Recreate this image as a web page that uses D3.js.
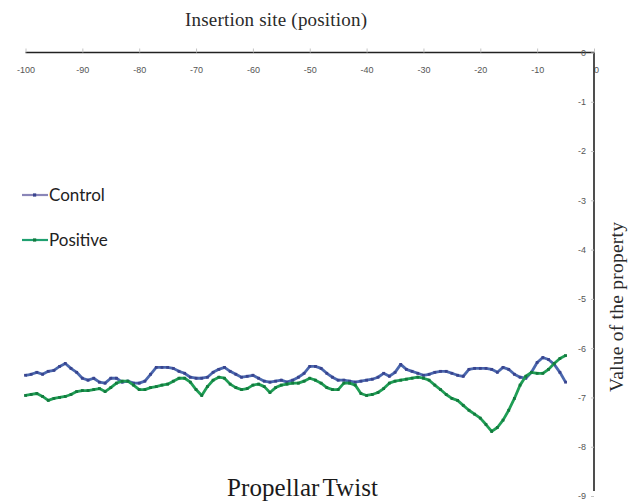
<!DOCTYPE html>
<html>
<head>
<meta charset="utf-8">
<script src="https://cdn.jsdelivr.net/npm/d3@7"></script>
<style>
  html, body { margin: 0; padding: 0; background: #fff; }
  svg { display: block; }
</style>
</head>
<body>
<svg id="chart" width="629" height="502"></svg>
<script>
// Insertion positions (upstream of the site)
const positions = d3.range(-100, -4);

// Propeller twist profile, control sequences
const controlValues = [
  -6.55, -6.53, -6.49, -6.53, -6.47, -6.45, -6.37, -6.31, -6.41, -6.49,
  -6.61, -6.65, -6.61, -6.69, -6.71, -6.61, -6.61, -6.69, -6.67, -6.71,
  -6.71, -6.67, -6.53, -6.39, -6.39, -6.39, -6.41, -6.47, -6.51, -6.59,
  -6.61, -6.61, -6.59, -6.49, -6.43, -6.39, -6.47, -6.53, -6.59, -6.57,
  -6.55, -6.61, -6.67, -6.69, -6.67, -6.65, -6.69, -6.65, -6.59, -6.51,
  -6.37, -6.37, -6.41, -6.51, -6.59, -6.65, -6.65, -6.67, -6.69, -6.67,
  -6.65, -6.63, -6.59, -6.51, -6.57, -6.49, -6.33, -6.43, -6.47, -6.51,
  -6.55, -6.53, -6.49, -6.47, -6.47, -6.51, -6.55, -6.57, -6.43, -6.41,
  -6.41, -6.41, -6.43, -6.49, -6.39, -6.43, -6.53, -6.59, -6.61, -6.49,
  -6.29, -6.19, -6.23, -6.33, -6.49, -6.69
];

// Propeller twist profile, positive sequences
const positiveValues = [
  -6.96, -6.94, -6.92, -6.98, -7.06, -7.02, -7.00, -6.98, -6.94, -6.88,
  -6.86, -6.86, -6.84, -6.82, -6.88, -6.80, -6.71, -6.67, -6.67, -6.75,
  -6.84, -6.84, -6.80, -6.78, -6.75, -6.73, -6.67, -6.61, -6.61, -6.69,
  -6.84, -6.96, -6.78, -6.65, -6.59, -6.61, -6.73, -6.80, -6.84, -6.82,
  -6.75, -6.73, -6.78, -6.90, -6.80, -6.75, -6.73, -6.71, -6.71, -6.67,
  -6.61, -6.65, -6.71, -6.80, -6.84, -6.84, -6.71, -6.71, -6.75, -6.92,
  -6.96, -6.94, -6.90, -6.82, -6.71, -6.67, -6.65, -6.63, -6.61, -6.59,
  -6.61, -6.65, -6.75, -6.84, -6.94, -7.02, -7.06, -7.16, -7.26, -7.34,
  -7.42, -7.55, -7.69, -7.61, -7.46, -7.26, -7.02, -6.75, -6.57, -6.49,
  -6.51, -6.51, -6.43, -6.31, -6.21, -6.15
];

const xTicks = [-100, -90, -80, -70, -60, -50, -40, -30, -20, -10, 0];
const yTicks = [0, -1, -2, -3, -4, -5, -6, -7, -8, -9];

const seriesNames = ["Control", "Positive"];
const seriesColors = ["#4a67ad", "#1f9e55"];
const markerColors = ["#39448f", "#137a3e"];
const legendLineColors = ["#8a86b8", "#1fa070"];

const svg = d3.select("#chart");

const x = d3.scaleLinear().domain([-100, 0]).range([25.5, 594]);
const y = d3.scaleLinear().domain([0, -9]).range([52.5, 496]);

// Top x axis, labels hang below the line
const xAxis = d3.axisTop(x).tickValues(xTicks).tickSize(4).tickPadding(-24)
  .tickFormat(d => d);
const gx = svg.append("g").attr("transform", "translate(0,52.5)").call(xAxis);
gx.select(".domain").attr("stroke", "#222").attr("stroke-width", 1.6)
  .attr("d", `M${x(-100)},0H${x(0)}`);
gx.selectAll(".tick line").attr("stroke", "#c4c4c4");
gx.selectAll(".tick text")
  .attr("fill", "#555").attr("font-family", "Liberation Sans, Arial, sans-serif")
  .attr("font-size", 9);
gx.selectAll(".tick").filter(d => d === 0).select("text").attr("dx", 2);

// Right y axis, ticks drawn to the inside
const yAxis = d3.axisLeft(y).tickValues(yTicks).tickSize(3).tickPadding(5)
  .tickFormat(d => d);
const gy = svg.append("g").attr("transform", `translate(${x(0)},0)`).call(yAxis);
gy.select(".domain").attr("stroke", "#222").attr("stroke-width", 1.6)
  .attr("d", `M0,${y(0)}V${y(-8.9)}`);
gy.selectAll(".tick line").attr("stroke", "#c4c4c4");
gy.selectAll(".tick text")
  .attr("fill", "#555").attr("font-family", "Liberation Sans, Arial, sans-serif")
  .attr("font-size", 9);

// Series
const series = [controlValues, positiveValues];
const line = d3.line().x((d, i) => x(positions[i])).y(d => y(d));

series.forEach((vals, s) => {
  const g = svg.append("g");
  g.append("path").datum(vals)
    .attr("fill", "none").attr("stroke", seriesColors[s])
    .attr("stroke-width", 2.8).attr("stroke-linejoin", "round")
    .attr("d", line);
  g.selectAll("rect").data(vals).join("rect")
    .attr("x", (d, i) => x(positions[i]) - 1.4)
    .attr("y", d => y(d) - 1.4)
    .attr("width", 2.8).attr("height", 2.8)
    .attr("fill", markerColors[s]);
});

// Legend
const legend = svg.append("g");
seriesNames.forEach((name, i) => {
  const ly = 195 + i * 45;
  legend.append("line")
    .attr("x1", 22).attr("x2", 48).attr("y1", ly).attr("y2", ly)
    .attr("stroke", legendLineColors[i]).attr("stroke-width", 2.2);
  legend.append("rect")
    .attr("x", 33).attr("y", ly - 1.6).attr("width", 3.2).attr("height", 3.2)
    .attr("fill", markerColors[i]);
  legend.append("text")
    .attr("x", 49).attr("y", ly + 6)
    .attr("font-family", "Lato, 'Open Sans', sans-serif")
    .attr("font-size", 17).attr("fill", "#222")
    .text(name);
});

// Titles
svg.append("text")
  .attr("x", 185).attr("y", 26)
  .attr("font-family", "Liberation Serif, 'Times New Roman', serif")
  .attr("font-size", 19).attr("fill", "#2a2a2a")
  .attr("textLength", 182).attr("lengthAdjust", "spacing")
  .text("Insertion site (position)");

svg.append("text")
  .attr("transform", "translate(623,392) rotate(-90)")
  .attr("font-family", "Liberation Serif, 'Times New Roman', serif")
  .attr("font-size", 19.5).attr("fill", "#2a2a2a")
  .attr("textLength", 170).attr("lengthAdjust", "spacing")
  .text("Value of the property");

svg.append("text")
  .attr("x", 227).attr("y", 496)
  .attr("font-family", "Liberation Serif, 'Times New Roman', serif")
  .attr("font-size", 25).attr("fill", "#1a1a1a").attr("word-spacing", -3)
  .attr("textLength", 151).attr("lengthAdjust", "spacing")
  .text("Propellar Twist");
</script>
</body>
</html>
